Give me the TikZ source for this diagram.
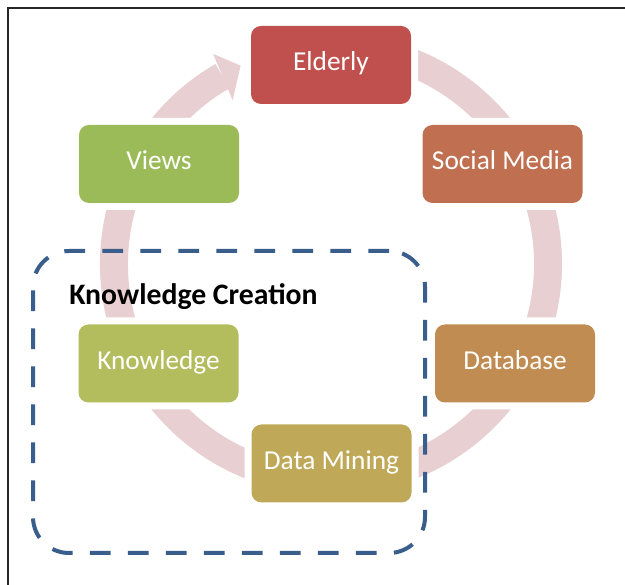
\documentclass[tikz,border=0pt]{standalone}
\usepackage{fontspec}
\setmainfont{Carlito}
\usetikzlibrary{calc}
\definecolor{ringpink}{HTML}{E8D0D2}
\definecolor{cElderly}{HTML}{C0504D}
\definecolor{cSocial}{HTML}{C07050}
\definecolor{cDatabase}{HTML}{C18C52}
\definecolor{cMining}{HTML}{BFA958}
\definecolor{cKnow}{HTML}{B3BD5E}
\definecolor{cViews}{HTML}{9BBB59}
\definecolor{kcblue}{HTML}{3A5E8C}
\begin{document}
\begin{tikzpicture}[x=0.75pt,y=0.75pt,
  stage/.style={rounded corners=7.5pt, minimum width=120pt, minimum height=58.5pt,
    inner sep=0pt, text=white, text height=1em, text depth=0.136em,
    font=\fontsize{20.5}{24}\selectfont,
    preaction={draw=white, line width=10.5pt}},
  ring/.style={draw=ringpink, line width=21pt},
  kcbox/.style={draw=kcblue, line width=3pt, dash pattern=on 15.5pt off 13pt,
    rounded corners=27pt, minimum width=294pt, minimum height=226.5pt, inner sep=0pt},
  frameline/.style={draw=black!85, line width=1.1pt}]
\useasboundingbox (0,0) rectangle (625,585);
\fill[white] (0,0) rectangle (625,585);

% outer frame (left and top edges)
\draw[frameline] (8,0) -- (8,577) -- (625,577);

% cycle ring with arrowhead
\coordinate (cen) at (331,321);
\draw[ring] (cen) ++(75:162.75pt) arc[start angle=75, end angle=-240, radius=162.75pt];
\fill[ringpink] ($(cen)+(114.5:163.5pt)$) -- ($(cen)+(119.3:180.75pt)$)
  -- ($(cen)+(121:143.25pt)$) -- cycle;

% stages
\node[stage, fill=cElderly]  (elderly)  at (331,520)   {Elderly};
\node[stage, fill=cSocial]   (social)   at (502.5,421) {Social Media};
\node[stage, fill=cDatabase] (database) at (515,221.5) {Database};
\node[stage, fill=cMining]   (mining)   at (331.5,121.5) {Data Mining};
\node[stage, fill=cKnow]     (know)     at (158.5,221.5) {Knowledge};
\node[stage, fill=cViews]    (views)    at (159,421)   {Views};

% knowledge creation group
\node[kcbox] (kc) at (229,183) {};
\node[anchor=base west, inner sep=0pt, font=\bfseries\fontsize{22.3}{26}\selectfont]
  (kctitle) at (69,280) {Knowledge Creation};
\end{tikzpicture}
\end{document}
